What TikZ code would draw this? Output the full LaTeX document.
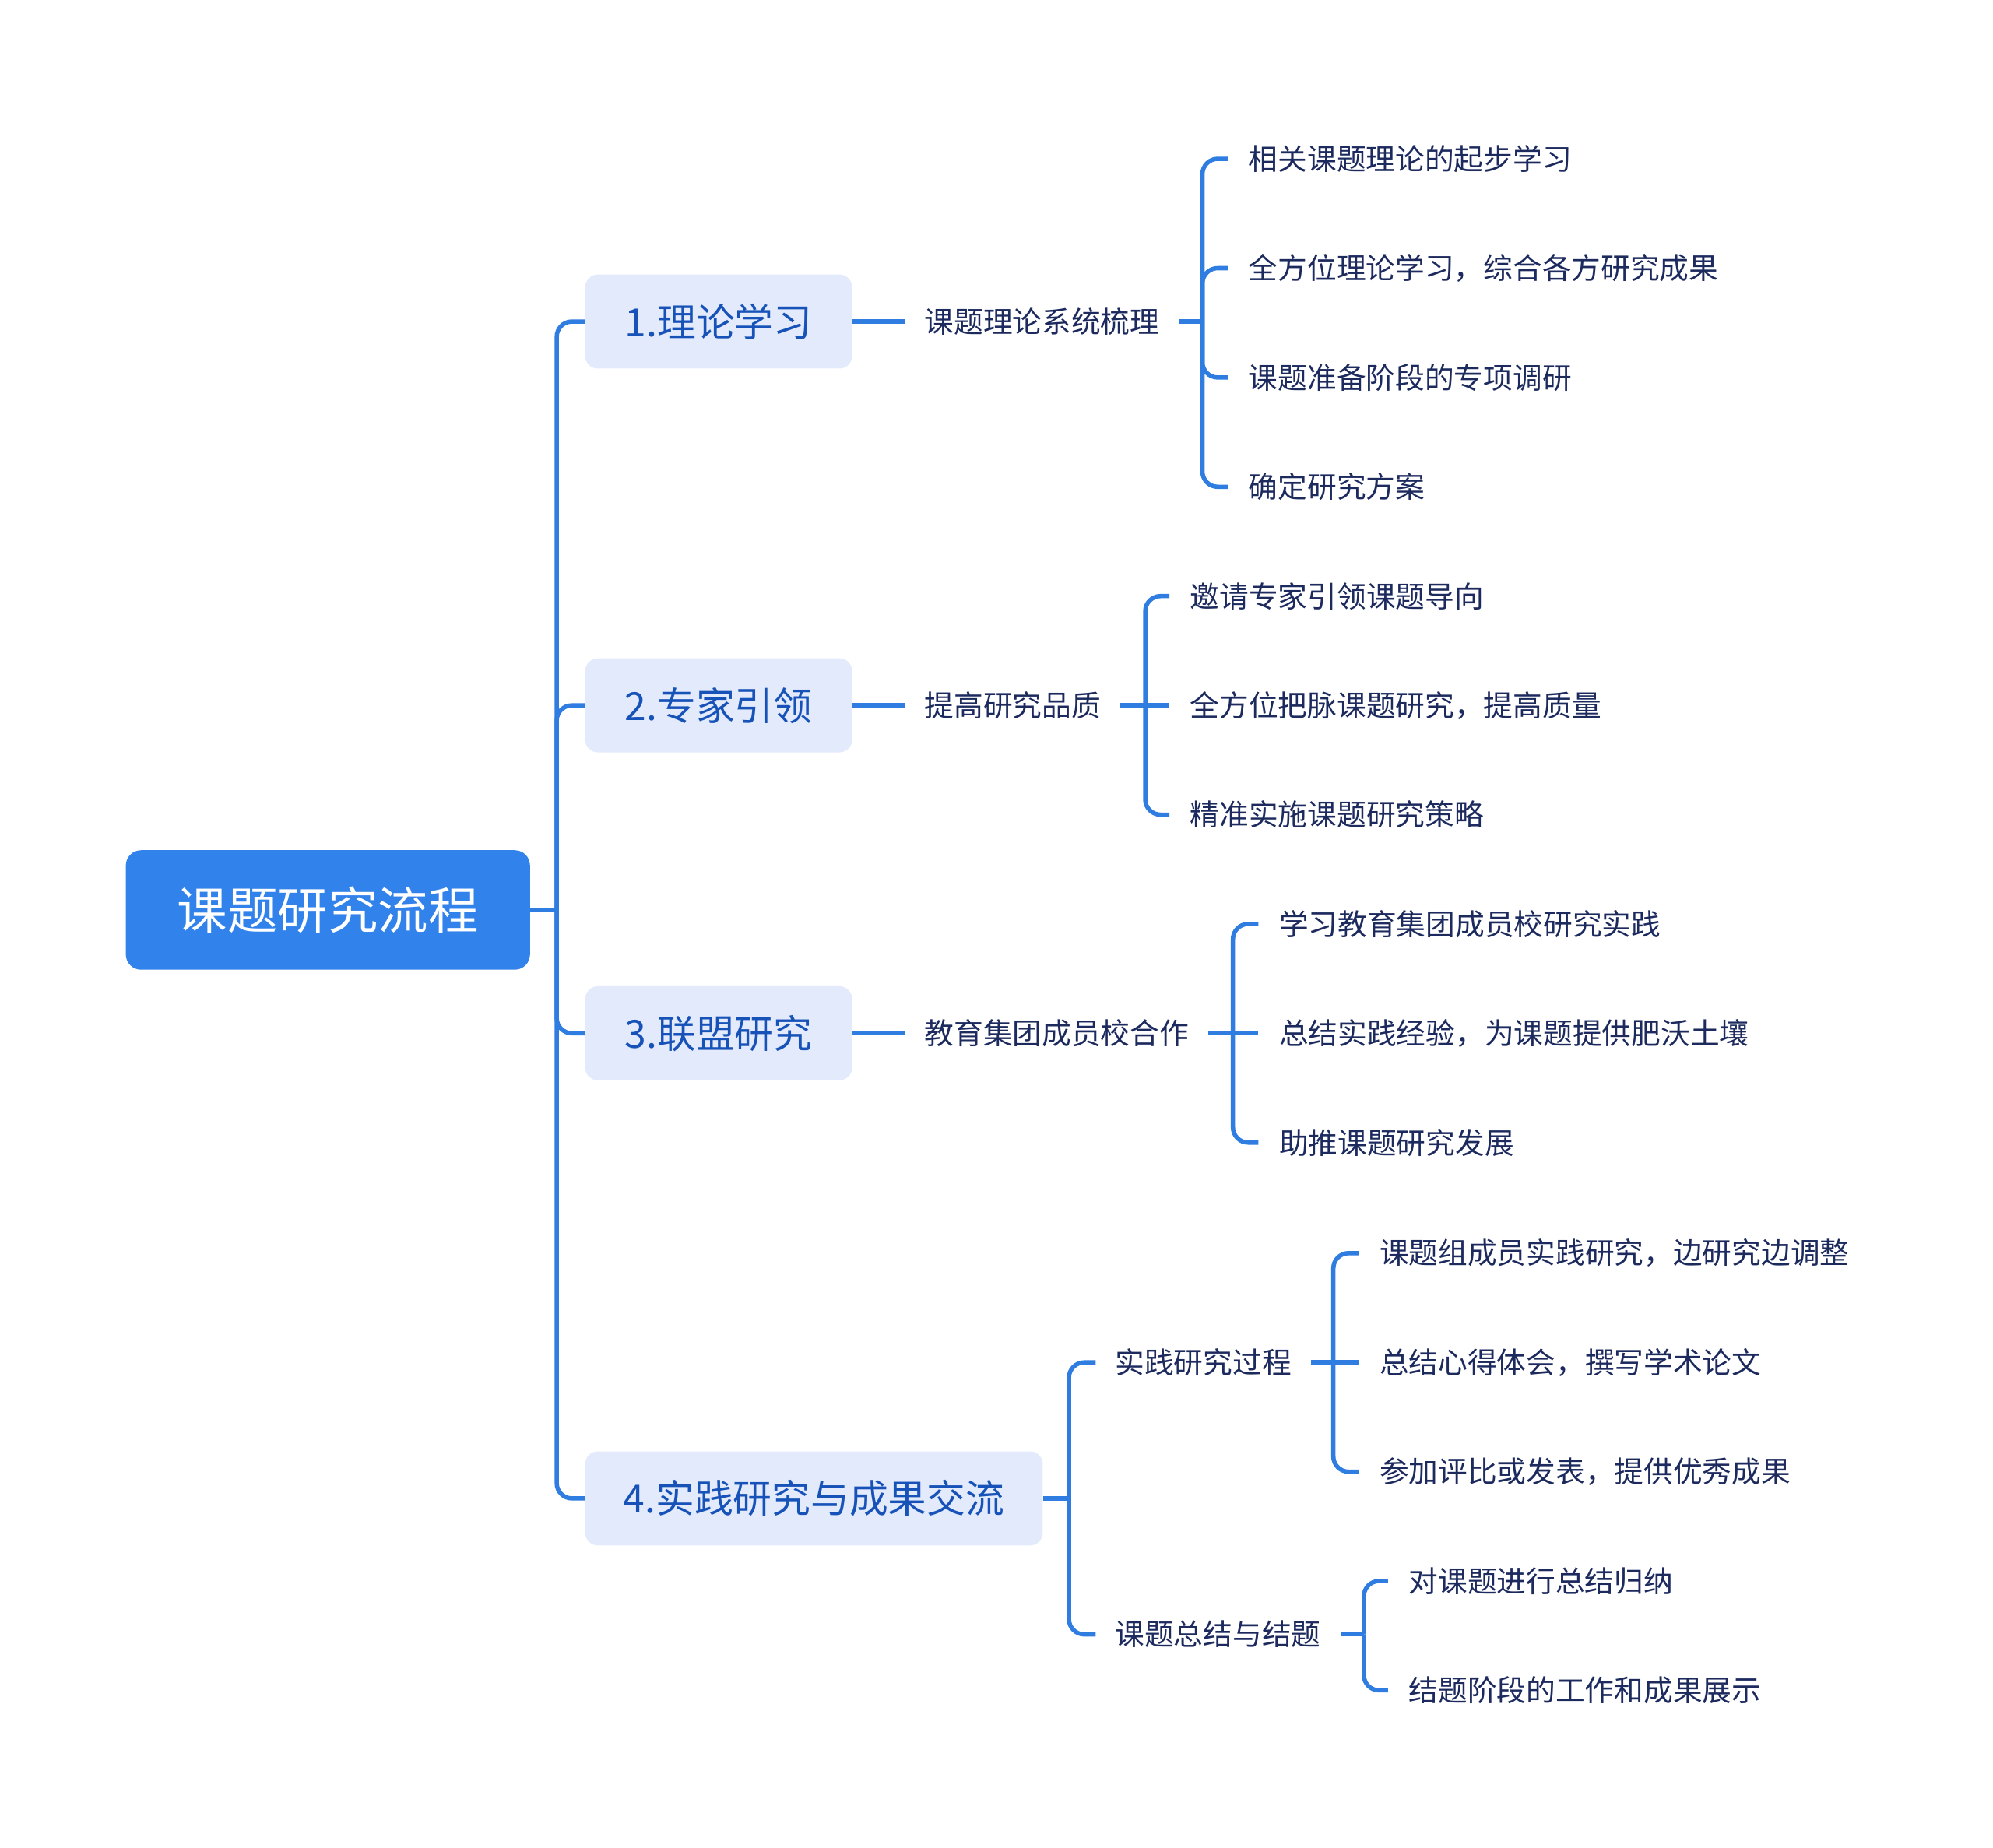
\documentclass[tikz,border=0pt]{standalone}
\usepackage{fontspec}
\newfontfamily\cjk{Noto Sans CJK SC}
\definecolor{linec}{HTML}{2F7DE1}
\definecolor{rootc}{HTML}{3182EA}
\definecolor{lonefill}{HTML}{E2EAFC}
\definecolor{lonetext}{HTML}{1652B8}
\definecolor{leaftext}{HTML}{1C2A5E}
\begin{document}
\begin{tikzpicture}[x=0.5pt,y=-0.5pt,
  rootbox/.style={fill=rootc,text=white,rounded corners=6pt,minimum width=159pt,minimum height=47pt,inner sep=0pt,font=\cjk\fontsize{19.75}{24}\selectfont},
  lonebox/.style={fill=lonefill,text=lonetext,rounded corners=5pt,minimum height=37pt,inner sep=0pt,anchor=west,font=\cjk\fontsize{15.25}{18}\selectfont},
  midtext/.style={text=leaftext,inner xsep=7.5pt,anchor=west,font=\cjk\fontsize{11.55}{14}\selectfont},
  leaf/.style={text=leaftext,inner xsep=8pt,anchor=west,font=\cjk\fontsize{11.55}{14}\selectfont},
  conn/.style={draw=linec,line width=1.7pt},
  bendc/.style={conn,rounded corners=6pt}]
\useasboundingbox (0,0) rectangle (1568,1454);

% root
\node[rootbox] (root) at (258,716) {课题研究流程};
\coordinate (jr) at (438,716);

% level 1
\node[lonebox,minimum width=105pt] (a) at (460,253) {1.理论学习};
\node[lonebox,minimum width=105pt] (b) at (460,555) {2.专家引领};
\node[lonebox,minimum width=105pt] (c) at (460,813) {3.联盟研究};
\node[lonebox,minimum width=180pt] (d) at (460,1179) {4.实践研究与成果交流};

\draw[conn] (root.east) -- (jr);
\foreach \n in {a,b,c,d} \draw[bendc] (jr) |- (\n.west);

% group 1
\node[midtext] (a1) at (712,253) {课题理论系统梳理};
\coordinate (ja) at (946,253);
\node[leaf] (a11) at (966,125) {相关课题理论的起步学习};
\node[leaf] (a12) at (966,211) {全方位理论学习，综合各方研究成果};
\node[leaf] (a13) at (966,297) {课题准备阶段的专项调研};
\node[leaf] (a14) at (966,383) {确定研究方案};
\draw[conn] (a.east) -- (a1.west);
\draw[conn] (a1.east) -- (ja);
\foreach \n in {a11,a12,a13,a14} \draw[bendc] (ja) |- (\n.west);

% group 2
\node[midtext] (b1) at (712,555) {提高研究品质};
\coordinate (jb) at (901,555);
\node[leaf] (b11) at (920,469) {邀请专家引领课题导向};
\node[leaf] (b12) at (920,555) {全方位把脉课题研究，提高质量};
\node[leaf] (b13) at (920,641) {精准实施课题研究策略};
\draw[conn] (b.east) -- (b1.west);
\draw[conn] (b1.east) -- (jb);
\foreach \n in {b11,b13} \draw[bendc] (jb) |- (\n.west);
\draw[conn] (jb) -- (b12.west);

% group 3
\node[midtext] (c1) at (712,813) {教育集团成员校合作};
\coordinate (jc) at (970,813);
\node[leaf] (c11) at (990,727) {学习教育集团成员校研究实践};
\node[leaf] (c12) at (990,813) {总结实践经验，为课题提供肥沃土壤};
\node[leaf] (c13) at (990,899) {助推课题研究发展};
\draw[conn] (c.east) -- (c1.west);
\draw[conn] (c1.east) -- (jc);
\foreach \n in {c11,c13} \draw[bendc] (jc) |- (\n.west);
\draw[conn] (jc) -- (c12.west);

% group 4
\coordinate (jd) at (841,1179);
\node[midtext] (d1) at (862,1072) {实践研究过程};
\node[midtext] (d2) at (862,1286) {课题总结与结题};
\draw[conn] (d.east) -- (jd);
\foreach \n in {d1,d2} \draw[bendc] (jd) |- (\n.west);

\coordinate (jd1) at (1049,1072);
\node[leaf] (d11) at (1069,986) {课题组成员实践研究，边研究边调整};
\node[leaf] (d12) at (1069,1072) {总结心得体会，撰写学术论文};
\node[leaf] (d13) at (1069,1158) {参加评比或发表，提供优秀成果};
\draw[conn] (d1.east) -- (jd1);
\foreach \n in {d11,d13} \draw[bendc] (jd1) |- (\n.west);
\draw[conn] (jd1) -- (d12.west);

\coordinate (jd2) at (1073,1286);
\node[leaf] (d21) at (1092,1244) {对课题进行总结归纳};
\node[leaf] (d22) at (1092,1330) {结题阶段的工作和成果展示};
\draw[conn] (d2.east) -- (jd2);
\foreach \n in {d21,d22} \draw[bendc] (jd2) |- (\n.west);
\end{tikzpicture}
\end{document}
